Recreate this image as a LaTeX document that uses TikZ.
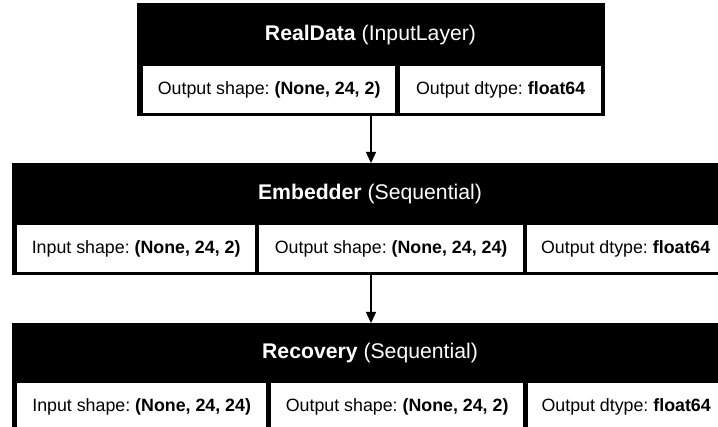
\documentclass[tikz,border=0pt]{standalone}
\usepackage{fontspec}
\setmainfont{Liberation Sans}
\usetikzlibrary{arrows.meta}
\frenchspacing
\tikzset{
  layerbox/.style={draw=black, fill=black, line width=1pt, inner sep=0pt, anchor=north west},
  headtext/.style={text=white, inner sep=0pt, font=\fontsize{21.2}{25}\selectfont},
  cell/.style={draw=black, fill=white, line width=1.3pt, inner sep=0pt, anchor=north west,
    font=\fontsize{17.8}{21}\selectfont},
  flow/.style={-{Triangle[length=11pt,width=10pt]}, line width=1.3pt, black},
}
\begin{document}
\begin{tikzpicture}[x=1pt, y=-1pt]
\useasboundingbox (0,0) rectangle (718,427);
\clip (0,0) rectangle (718,427);
\fill[white] (0,0) rectangle (718,427);
% RealData
\node[layerbox, minimum width=467pt, minimum height=112pt] (real) at (137,3) {};
\node[headtext] (realh) at (370.5,35) {\textbf{RealData} (InputLayer)};
\node[cell, minimum width=253pt, minimum height=48pt] (realc1) at (142,65) {Output shape: \textbf{(None, 24, 2)}};
\node[cell, minimum width=202pt, minimum height=48pt] (realc2) at (399,65) {Output dtype: \textbf{float64}};
% Embedder
\node[layerbox, minimum width=716pt, minimum height=111pt] (emb) at (12,163) {};
\node[headtext] (embh) at (370,194) {\textbf{Embedder} (Sequential)};
\node[cell, minimum width=239pt, minimum height=48pt] (embc1) at (16,224) {Input shape: \textbf{(None, 24, 2)}};
\node[cell, minimum width=265pt, minimum height=48pt] (embc2) at (258,224) {Output shape: \textbf{(None, 24, 24)}};
\node[cell, minimum width=198pt, minimum height=48pt] (embc3) at (526,224) {Output dtype: \textbf{float64}};
% Recovery
\node[layerbox, minimum width=716pt, minimum height=111pt] (rec) at (12,323) {};
\node[headtext] (rech) at (370,353) {\textbf{Recovery} (Sequential)};
\node[cell, minimum width=250pt, minimum height=48pt] (recc1) at (16,382) {Input shape: \textbf{(None, 24, 24)}};
\node[cell, minimum width=253pt, minimum height=48pt] (recc2) at (270,382) {Output shape: \textbf{(None, 24, 2)}};
\node[cell, minimum width=197pt, minimum height=48pt] (recc3) at (527,382) {Output dtype: \textbf{float64}};
% connectors
\draw[flow] (real.south -| 371,0) -- (emb.north -| 371,0);
\draw[flow] (emb.south -| 371,0) -- (rec.north -| 371,0);
\end{tikzpicture}
\end{document}
